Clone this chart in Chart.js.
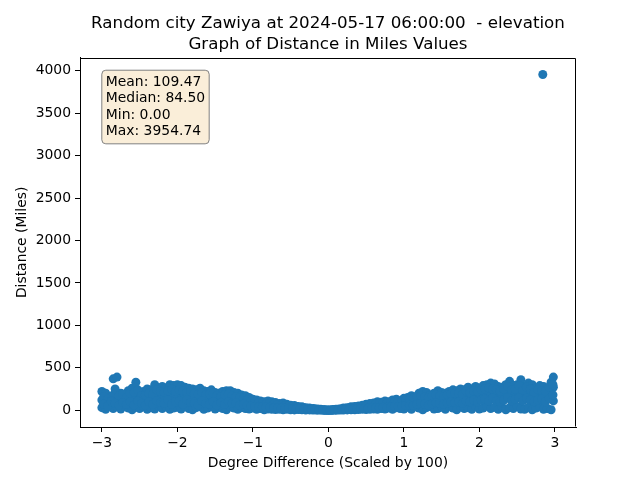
<!DOCTYPE html>
<html>
<head>
<meta charset="utf-8">
<script src="https://cdn.jsdelivr.net/npm/chart.js@4.4.1/dist/chart.umd.min.js"></script>
<style>
html,body{margin:0;padding:0;background:#fff;}
#wrap{width:640px;height:480px;position:relative;}
</style>
</head>
<body>
<div id="wrap"><canvas id="c" width="640" height="480"></canvas></div>
<script>
const titleLines = ["Random city Zawiya at 2024-05-17 06:00:00  - elevation", "Graph of Distance in Miles Values"];
const xLabel = "Degree Difference (Scaled by 100)";
const yLabel = "Distance (Miles)";
const statsLines = ["Mean: 109.47", "Median: 84.50", "Min: 0.00", "Max: 3954.74"];
const xTicks = [-3, -2, -1, 0, 1, 2, 3];
const yTicks = [0, 500, 1000, 1500, 2000, 2500, 3000, 3500, 4000];

const degreeDiff = [-3.00,-2.95,-2.90,-2.85,-2.80,-2.75,-2.70,-2.65,-2.60,-2.55,-2.50,-2.45,-2.40,-2.35,-2.30,-2.25,-2.20,-2.15,-2.10,-2.05,-2.00,-1.95,-1.90,-1.85,-1.80,-1.75,-1.70,-1.65,-1.60,-1.55,-1.50,-1.45,-1.40,-1.35,-1.30,-1.25,-1.20,-1.15,-1.10,-1.05,-1.00,-0.95,-0.90,-0.85,-0.80,-0.75,-0.70,-0.65,-0.60,-0.55,-0.50,-0.45,-0.40,-0.35,-0.30,-0.25,-0.20,-0.15,-0.10,-0.05,0.00,0.05,0.10,0.15,0.20,0.25,0.30,0.35,0.40,0.45,0.50,0.55,0.60,0.65,0.70,0.75,0.80,0.85,0.90,0.95,1.00,1.05,1.10,1.15,1.20,1.25,1.30,1.35,1.40,1.45,1.50,1.55,1.60,1.65,1.70,1.75,1.80,1.85,1.90,1.95,2.00,2.05,2.10,2.15,2.20,2.25,2.30,2.35,2.40,2.45,2.50,2.55,2.60,2.65,2.70,2.75,2.80,2.85,2.90,2.95,2.98];

const distHigh = [220,200,150,370,390,200,180,230,260,330,200,220,250,240,300,260,280,260,300,290,300,290,270,260,250,240,260,230,220,240,210,200,220,230,230,210,200,180,170,150,130,120,110,100,110,100,90,80,85,70,60,55,45,40,30,25,20,15,10,5,2,
5,10,15,25,30,40,45,50,60,70,80,85,100,95,110,100,120,130,110,140,150,170,160,200,220,210,180,200,230,210,200,220,240,230,250,240,270,250,280,260,290,300,320,310,280,270,300,340,290,300,360,280,320,300,260,290,280,250,330,390];

const distMid = [120,90,60,180,110,140,100,150,120,170,130,90,160,120,180,140,150,190,130,170,160,120,180,140,150,110,170,130,120,160,100,140,110,150,120,130,100,110,90,80,70,60,65,55,60,50,45,40,45,35,30,28,22,20,15,12,10,8,5,3,1,
3,5,8,12,15,20,22,28,30,35,40,45,50,55,60,55,70,75,65,80,90,100,95,110,130,120,100,115,140,120,110,130,150,140,160,130,170,150,180,160,190,200,180,210,170,160,190,220,180,200,230,170,210,190,150,180,200,160,210,270];

const distLow = [30,10,60,20,40,15,50,25,5,35,20,45,10,30,15,50,20,40,10,25,35,15,45,20,5,30,40,10,25,50,15,35,20,5,40,25,10,30,20,15,25,10,20,5,15,10,8,12,5,10,6,4,8,5,3,4,2,1,2,0,0,
0,1,2,3,4,6,5,8,10,7,12,15,10,20,15,25,10,30,20,15,35,10,40,25,5,30,45,15,20,35,10,50,25,5,40,20,30,10,45,15,25,50,20,35,10,40,5,30,20,45,15,10,35,5,25,40,10,20,5,110];

const degreeDiffB = [-2.975,-2.925,-2.875,-2.825,-2.775,-2.725,-2.675,-2.625,-2.575,-2.525,-2.475,-2.425,-2.375,-2.325,-2.275,-2.225,-2.175,-2.125,-2.075,-2.025,-1.975,-1.925,-1.875,-1.825,-1.775,-1.725,-1.675,-1.625,-1.575,-1.525,-1.475,-1.425,-1.375,-1.325,-1.275,-1.225,-1.175,-1.125,-1.075,-1.025,-0.975,-0.925,-0.875,-0.825,-0.775,-0.725,-0.675,-0.625,-0.575,-0.525,-0.475,-0.425,-0.375,-0.325,-0.275,-0.225,-0.175,-0.125,-0.075,-0.025,
0.025,0.075,0.125,0.175,0.225,0.275,0.325,0.375,0.425,0.475,0.525,0.575,0.625,0.675,0.725,0.775,0.825,0.875,0.925,0.975,1.025,1.075,1.125,1.175,1.225,1.275,1.325,1.375,1.425,1.475,1.525,1.575,1.625,1.675,1.725,1.775,1.825,1.875,1.925,1.975,2.025,2.075,2.125,2.175,2.225,2.275,2.325,2.375,2.425,2.475,2.525,2.575,2.625,2.675,2.725,2.775,2.825,2.875,2.925,2.975];

const distUpper = [160,130,110,250,170,190,150,200,210,240,170,180,200,190,240,220,210,230,250,220,240,230,210,220,200,190,210,180,190,200,170,160,180,190,170,160,150,140,120,110,100,90,85,80,80,70,65,60,55,50,45,40,35,30,22,18,14,10,6,3,
3,7,12,18,24,30,35,40,45,55,60,70,75,80,85,90,95,100,105,115,120,130,140,160,170,160,150,170,180,170,160,180,190,200,200,190,220,210,230,220,240,250,260,250,240,220,250,280,240,250,290,230,270,250,210,240,230,220,270,300];

const distLowMid = [70,50,100,80,60,90,70,100,60,110,80,60,100,70,110,90,80,120,70,100,110,70,120,90,80,60,110,80,70,100,60,90,70,100,80,90,60,70,55,50,45,40,40,35,35,30,28,25,22,20,18,15,12,10,8,6,5,4,2,1,
1,2,4,6,8,10,12,15,18,20,22,25,28,30,35,35,40,45,40,50,55,60,55,70,80,70,60,75,90,80,70,85,100,90,100,80,110,100,120,100,120,130,110,140,110,100,120,150,110,130,150,110,140,120,100,120,130,100,140,180];

const outlierX = [2.84];
const outlierY = [3954.74];

const points = [];
[distHigh, distMid, distLow].forEach(series => {
  series.forEach((v, i) => points.push({x: degreeDiff[i], y: v}));
});
[distUpper, distLowMid].forEach(series => {
  series.forEach((v, i) => points.push({x: degreeDiffB[i], y: v}));
});
outlierX.forEach((x, i) => points.push({x: x, y: outlierY[i]}));

const FONT = "'DejaVu Sans', sans-serif";
const BLUE = '#1f77b4';

const framePlugin = {
  id: 'frame',
  afterDraw(chart) {
    const ctx = chart.ctx, a = chart.chartArea;
    ctx.save();
    ctx.strokeStyle = '#000';
    ctx.lineWidth = 1;
    const L = Math.round(a.left) + 0.5, R = Math.round(a.right) - 0.5, T = Math.round(a.top) + 0.5, B = Math.round(a.bottom) - 0.5;
    ctx.beginPath();
    ctx.moveTo(L, T); ctx.lineTo(R, T); ctx.lineTo(R, B);
    ctx.stroke();
    // stats box
    const fs = 13.9;
    ctx.font = fs + "px " + FONT;
    const lineH = 16.4;
    const tx = a.left + 0.05 * (a.right - a.left) + 1;
    const ty = a.top + 0.05 * (a.bottom - a.top) - 1;
    let w = 0;
    statsLines.forEach(s => { w = Math.max(w, ctx.measureText(s).width); });
    const pad = 4;
    const bx = tx - pad, by = ty - pad - 1, bw = w + 2 * pad, bh = lineH * statsLines.length + 2 * pad;
    const r = 4;
    ctx.beginPath();
    ctx.moveTo(bx + r, by);
    ctx.lineTo(bx + bw - r, by);
    ctx.quadraticCurveTo(bx + bw, by, bx + bw, by + r);
    ctx.lineTo(bx + bw, by + bh - r);
    ctx.quadraticCurveTo(bx + bw, by + bh, bx + bw - r, by + bh);
    ctx.lineTo(bx + r, by + bh);
    ctx.quadraticCurveTo(bx, by + bh, bx, by + bh - r);
    ctx.lineTo(bx, by + r);
    ctx.quadraticCurveTo(bx, by, bx + r, by);
    ctx.closePath();
    ctx.fillStyle = '#faeed9';
    ctx.fill();
    ctx.strokeStyle = '#808080';
    ctx.lineWidth = 1;
    ctx.stroke();
    ctx.fillStyle = '#000';
    ctx.textBaseline = 'top';
    ctx.textAlign = 'left';
    statsLines.forEach((s, i) => ctx.fillText(s, tx, ty + i * lineH));
    ctx.restore();
  }
};

new Chart(document.getElementById('c'), {
  type: 'scatter',
  data: {
    datasets: [{
      data: points,
      backgroundColor: BLUE,
      borderColor: BLUE,
      borderWidth: 0,
      pointRadius: 4.5,
      pointHoverRadius: 4.5
    }]
  },
  options: {
    responsive: false,
    animation: false,
    devicePixelRatio: 1,
    events: [],
    layout: { padding: { left: 0, right: 64, top: 0, bottom: 0 } },
    plugins: {
      legend: { display: false },
      tooltip: { enabled: false },
      title: {
        display: true,
        text: titleLines,
        fullSize: false,
        color: '#000',
        font: { family: FONT, size: 16.7, weight: 'normal', lineHeight: 1.25 },
        padding: { top: 13, bottom: 3 }
      }
    },
    scales: {
      x: {
        type: 'linear',
        min: -3.29,
        max: 3.28,
        afterFit(s) { s.height = 53; },
        afterBuildTicks(s) { s.ticks = xTicks.map(v => ({value: v})); },
        ticks: {
          color: '#000',
          font: { family: FONT, size: 13.9 },
          padding: 3,
          maxRotation: 0,
          callback: v => (v < 0 ? '\u2212' + Math.abs(v) : String(v))
        },
        grid: { display: true, drawOnChartArea: false, drawTicks: true, tickLength: 5, color: '#000', tickColor: '#000' },
        border: { display: true, color: '#000', width: 1 },
        title: { display: true, text: xLabel, color: '#000', font: { family: FONT, size: 13.9 }, padding: 8 }
      },
      y: {
        type: 'linear',
        min: -197.7,
        max: 4152.5,
        afterFit(s) { s.width = 80; },
        afterBuildTicks(s) { s.ticks = yTicks.map(v => ({value: v})); },
        ticks: {
          color: '#000',
          font: { family: FONT, size: 13.9 },
          padding: 4,
          callback: v => String(v)
        },
        grid: { display: true, drawOnChartArea: false, drawTicks: true, tickLength: 5, color: '#000', tickColor: '#000' },
        border: { display: true, color: '#000', width: 1 },
        title: { display: true, text: yLabel, color: '#000', font: { family: FONT, size: 13.9 }, padding: 14 }
      }
    }
  },
  plugins: [framePlugin]
});
</script>
</body>
</html>
